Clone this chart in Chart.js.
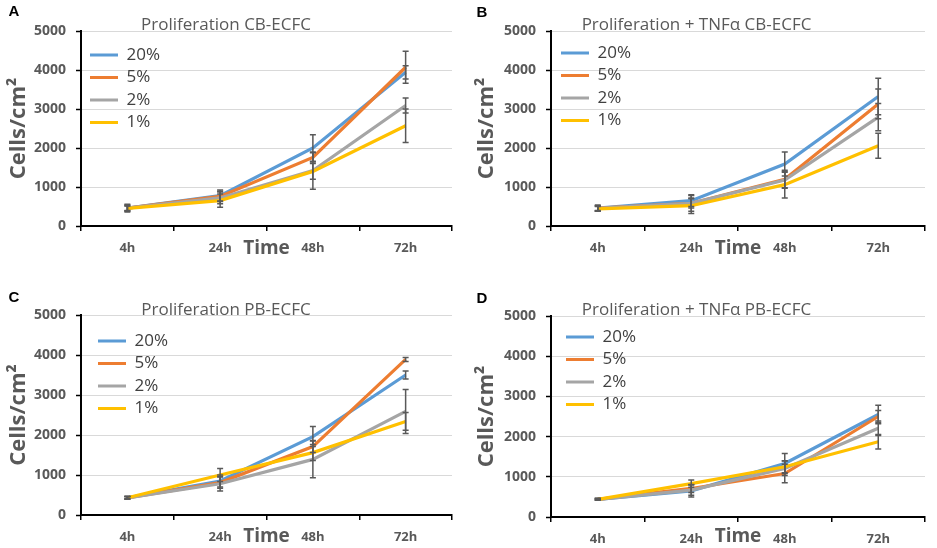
<!DOCTYPE html>
<html>
<head>
<meta charset="utf-8">
<script src="https://cdn.jsdelivr.net/npm/chart.js@4.4.1/dist/chart.umd.min.js"></script>
<style>
	body { margin: 0; background: #fff; }
	canvas { position: absolute; }
</style>
</head>
<body>
<canvas id="chartA" width="468" height="270" style="left:0;top:0"></canvas>
<canvas id="chartB" width="469" height="270" style="left:468px;top:0"></canvas>
<canvas id="chartC" width="468" height="278" style="left:0;top:270px"></canvas>
<canvas id="chartD" width="469" height="278" style="left:468px;top:270px"></canvas>
<script>
const timeLabels = ['4h', '24h', '48h', '72h'];
const oxygenLabels = ['20%', '5%', '2%', '1%'];
const lineColors = ['#5B9BD5', '#ED7D31', '#A5A5A5', '#FFC000'];

// A - Proliferation CB-ECFC
const cb20 = [460, 780, 2000, 3940];
const cb5 = [460, 760, 1760, 4070];
const cb2 = [460, 720, 1420, 3090];
const cb1 = [450, 650, 1400, 2570];
const cb20Err = [100, 140, 340, 170];
const cb5Err = [60, 130, 120, 410];
const cb2Err = [80, 150, 480, 190];
const cb1Err = [60, 170, 200, 430];

// B - Proliferation + TNFa CB-ECFC
const cbTnf20 = [460, 650, 1590, 3320];
const cbTnf5 = [460, 580, 1200, 3130];
const cbTnf2 = [450, 580, 1180, 2790];
const cbTnf1 = [440, 520, 1060, 2060];
const cbTnf20Err = [80, 150, 310, 470];
const cbTnf5Err = [60, 120, 230, 380];
const cbTnf2Err = [60, 200, 200, 350];
const cbTnf1Err = [60, 200, 340, 320];

// C - Proliferation PB-ECFC
const pb20 = [430, 850, 1960, 3500];
const pb5 = [430, 810, 1710, 3890];
const pb2 = [430, 780, 1390, 2590];
const pb1 = [430, 1000, 1560, 2340];
const pb20Err = [30, 150, 250, 100];
const pb5Err = [30, 140, 150, 50];
const pb2Err = [30, 180, 460, 550];
const pb1Err = [30, 160, 200, 220];

// D - Proliferation + TNFa PB-ECFC
const pbTnf20 = [440, 650, 1330, 2550];
const pbTnf5 = [440, 710, 1080, 2500];
const pbTnf2 = [440, 670, 1210, 2210];
const pbTnf1 = [440, 830, 1250, 1870];
const pbTnf20Err = [20, 150, 250, 230];
const pbTnf5Err = [20, 100, 230, 150];
const pbTnf2Err = [20, 130, 180, 180];
const pbTnf1Err = [20, 90, 150, 180];

const gray = '#595959';

const errorBars = {
	id: 'errorBars',
	afterDatasetsDraw(chart) {
		const ctx = chart.ctx;
		const y = chart.scales.y;
		ctx.save();
		ctx.strokeStyle = gray;
		ctx.lineWidth = 1.5;
		chart.data.datasets.forEach((ds, i) => {
			const meta = chart.getDatasetMeta(i);
			ds.errors.forEach((e, j) => {
				const x = meta.data[j].x;
				const top = y.getPixelForValue(ds.data[j] + e);
				const bot = y.getPixelForValue(ds.data[j] - e);
				ctx.beginPath();
				ctx.moveTo(x, top); ctx.lineTo(x, bot);
				ctx.moveTo(x - 3, top); ctx.lineTo(x + 3, top);
				ctx.moveTo(x - 3, bot); ctx.lineTo(x + 3, bot);
				ctx.stroke();
			});
		});
		ctx.restore();
	}
};

// put the legend inside the plot, top left, like the excel one
const legendShift = {
	id: 'legendShift',
	afterLayout(chart, args, opts) {
		const lg = chart.legend;
		lg.left = chart.chartArea.left + opts.dx;
		lg.top = chart.chartArea.top + opts.dy;
		lg.bottom = lg.top + lg.height;
	}
};

const panelLetter = {
	id: 'panelLetter',
	afterDraw(chart, args, opts) {
		const ctx = chart.ctx;
		ctx.save();
		ctx.fillStyle = '#000';
		ctx.font = "bold 15px 'Liberation Sans', Arial, sans-serif";
		ctx.textAlign = 'center';
		ctx.textBaseline = 'middle';
		ctx.fillText(opts.text, opts.x, opts.y);
		ctx.restore();
	}
};

function makePanel(id, letter, title, values, errs, box) {
	new Chart(document.getElementById(id), {
		type: 'line',
		data: {
			labels: timeLabels,
			datasets: oxygenLabels.map((lab, i) => ({
				label: lab,
				data: values[i],
				errors: errs[i],
				borderColor: lineColors[i],
				backgroundColor: lineColors[i],
				borderWidth: 3.2,
				pointRadius: 0,
				tension: 0,
				order: 4 - i,
			})),
		},
		options: {
			responsive: false,
			animation: false,
			layout: { padding: { left: 0, right: box.padRight, top: 0, bottom: 0 } },
			scales: {
				x: {
					offset: true,
					grid: { display: true, drawOnChartArea: false, offset: true, color: '#000', lineWidth: 1.5, tickLength: 5 },
					border: { color: '#000', width: 2 },
					ticks: { color: gray, padding: 9, maxRotation: 0, font: { family: 'Open Sans', size: 13, weight: 'bold' } },
					title: {
						display: true,
						text: 'Time',
						color: gray,
						padding: { top: 0, bottom: box.timePad },
						font: { family: 'Open Sans', size: 19, weight: 'bold' },
					},
					afterFit: s => { s.height = box.xHeight; },
				},
				y: {
					min: 0,
					max: 5000,
					ticks: {
						stepSize: 1000,
						color: gray,
						padding: 10,
						font: { family: 'Open Sans', size: 14, weight: 'bold' },
						callback: v => String(v),
					},
					grid: { color: '#d9d9d9', lineWidth: 1, tickColor: '#000', tickWidth: 1.5, tickLength: 5 },
					border: { color: '#000', width: 2 },
					title: {
						display: true,
						text: 'Cells/cm²',
						color: gray,
						padding: { top: 6, bottom: 0 },
						font: { family: 'Open Sans', size: 22, weight: 'bold' },
					},
					afterFit: s => { s.width = box.yWidth; },
				},
			},
			plugins: {
				title: {
					display: true,
					text: title,
					color: gray,
					padding: { top: box.titleTop, bottom: box.titleBottom },
					font: { family: 'Open Sans', size: 17, weight: 'normal' },
				},
				legend: {
					position: 'chartArea',
					align: 'start',
					labels: {
						usePointStyle: true,
						pointStyle: 'line',
						pointStyleWidth: 28,
						padding: 5.5,
						color: '#404040',
						font: { family: 'Open Sans', size: 17 },
						sort: (a, b) => a.datasetIndex - b.datasetIndex,
					},
				},
				tooltip: { enabled: false },
				legendShift: { dx: box.dx, dy: box.dy },
				panelLetter: { text: letter, x: 14, y: box.letterY },
			},
		},
		plugins: [errorBars, legendShift, panelLetter],
	});
}

makePanel('chartA', 'A', 'Proliferation CB-ECFC',
	[cb20, cb5, cb2, cb1], [cb20Err, cb5Err, cb2Err, cb1Err],
	{ yWidth: 81, padRight: 16, titleTop: 15, titleBottom: -4.4, xHeight: 44, timePad: 10, letterY: 12, dx: 3.5, dy: 10 });

makePanel('chartB', 'B', 'Proliferation + TNFα CB-ECFC',
	[cbTnf20, cbTnf5, cbTnf2, cbTnf1], [cbTnf20Err, cbTnf5Err, cbTnf2Err, cbTnf1Err],
	{ yWidth: 83, padRight: 12, titleTop: 15, titleBottom: -4.4, xHeight: 44, timePad: 10, letterY: 13, dx: 4.5, dy: 8 });

makePanel('chartC', 'C', 'Proliferation PB-ECFC',
	[pb20, pb5, pb2, pb1], [pb20Err, pb5Err, pb2Err, pb1Err],
	{ yWidth: 81, padRight: 16, titleTop: 30, titleBottom: -5.4, xHeight: 33, timePad: 0, letterY: 28, dx: 11.5, dy: 12 });

makePanel('chartD', 'D', 'Proliferation + TNFα PB-ECFC',
	[pbTnf20, pbTnf5, pbTnf2, pbTnf1], [pbTnf20Err, pbTnf5Err, pbTnf2Err, pbTnf1Err],
	{ yWidth: 83, padRight: 12, titleTop: 30, titleBottom: -4.4, xHeight: 31, timePad: 0, letterY: 29, dx: 9.5, dy: 7 });
</script>
</body>
</html>
